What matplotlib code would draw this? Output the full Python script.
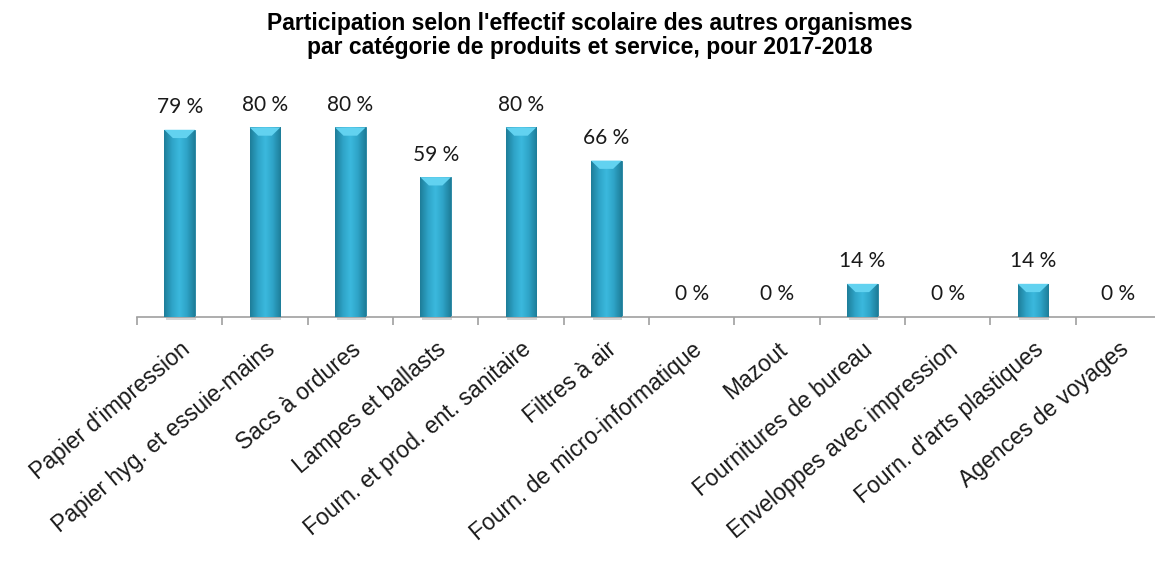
import matplotlib
matplotlib.use("Agg")
import matplotlib.pyplot as plt
import numpy as np
from matplotlib.colors import LinearSegmentedColormap

categories = ["Papier d'impression", "Papier hyg. et essuie-mains", "Sacs à ordures",
              "Lampes et ballasts", "Fourn. et prod. ent. sanitaire", "Filtres à air",
              "Fourn. de micro-informatique", "Mazout", "Fournitures de bureau",
              "Enveloppes avec impression", "Fourn. d'arts plastiques", "Agences de voyages"]
values = [79, 80, 80, 59, 80, 66, 0, 0, 14, 0, 14, 0]
value_labels = ["79 %", "80 %", "80 %", "59 %", "80 %", "66 %", "0 %", "0 %", "14 %", "0 %", "14 %", "0 %"]
title = "Participation selon l'effectif scolaire des autres organismes\npar catégorie de produits et service, pour 2017-2018"

W, H = 1155, 563
fig = plt.figure(figsize=(W/100, H/100), dpi=100)
left, right, bottom, top = 137, 1161, 317, 80
ax = fig.add_axes([left/W, 1 - bottom/H, (right-left)/W, (bottom-top)/H])

x = np.arange(len(categories))
bars = ax.bar(x, values, width=0.36, color="#2fa6c9", edgecolor="#1f7f9c", linewidth=0.6, zorder=2)

cmap = LinearSegmentedColormap.from_list("g", ["#1e7d99", "#2ea3c6", "#3bb9de", "#2ea3c6", "#1e7d99"])
grad = np.linspace(0, 1, 64).reshape(1, -1)
for b in bars:
    h = b.get_height()
    if h <= 0:
        continue
    x0, w = b.get_x(), b.get_width()
    # soft shadow below the bar
    ax.fill([x0 + w*0.05, x0 + w*1.02, x0 + w*1.02, x0 + w*0.05], [0, 0, -1.2, -1.2],
            color="#bbbbbb", alpha=0.6, zorder=1, lw=0, clip_on=False)
    im = ax.imshow(grad, cmap=cmap, extent=[x0, x0 + w, 0, h], aspect="auto", zorder=3)
    im.set_clip_path(b)
    bev = min(3.5, h * 0.35)
    ax.fill([x0, x0 + w, x0 + w*0.72, x0 + w*0.28], [h, h, h - bev, h - bev],
            color="#62d2f0", zorder=4, lw=0)

ax.set_xlim(-0.5, len(categories) - 0.5)
ax.set_ylim(0, 100)

for xi, v, lab in zip(x, values, value_labels):
    ax.annotate(lab, (xi, v), xytext=(0, 9), textcoords="offset points",
                ha="center", va="bottom", fontsize=15, family=["Lato", "DejaVu Sans"], color="#1a1a1a")

for s in ["top", "right", "left"]:
    ax.spines[s].set_visible(False)
ax.spines["bottom"].set_color("#a0a0a0")
ax.spines["bottom"].set_linewidth(1.2)
ax.set_yticks([])
ax.set_xticks(x)
ax.set_xticklabels(categories, rotation=40, ha="right", rotation_mode="anchor",
                   fontsize=16.5, family=["Liberation Sans", "DejaVu Sans"], color="#1a1a1a")
ax.tick_params(axis="x", which="major", length=0, pad=15)
ax.set_xticks(np.arange(-0.5, len(categories), 1), minor=True)
ax.tick_params(axis="x", which="minor", length=6, color="#a0a0a0", width=1.2)

fig.text(590/W, 1 - 12/H, title, ha="center", va="top", fontsize=16.5, fontweight="bold",
         family=["Liberation Sans", "DejaVu Sans"], linespacing=1.05)

fig.savefig("out.png", dpi=100)
